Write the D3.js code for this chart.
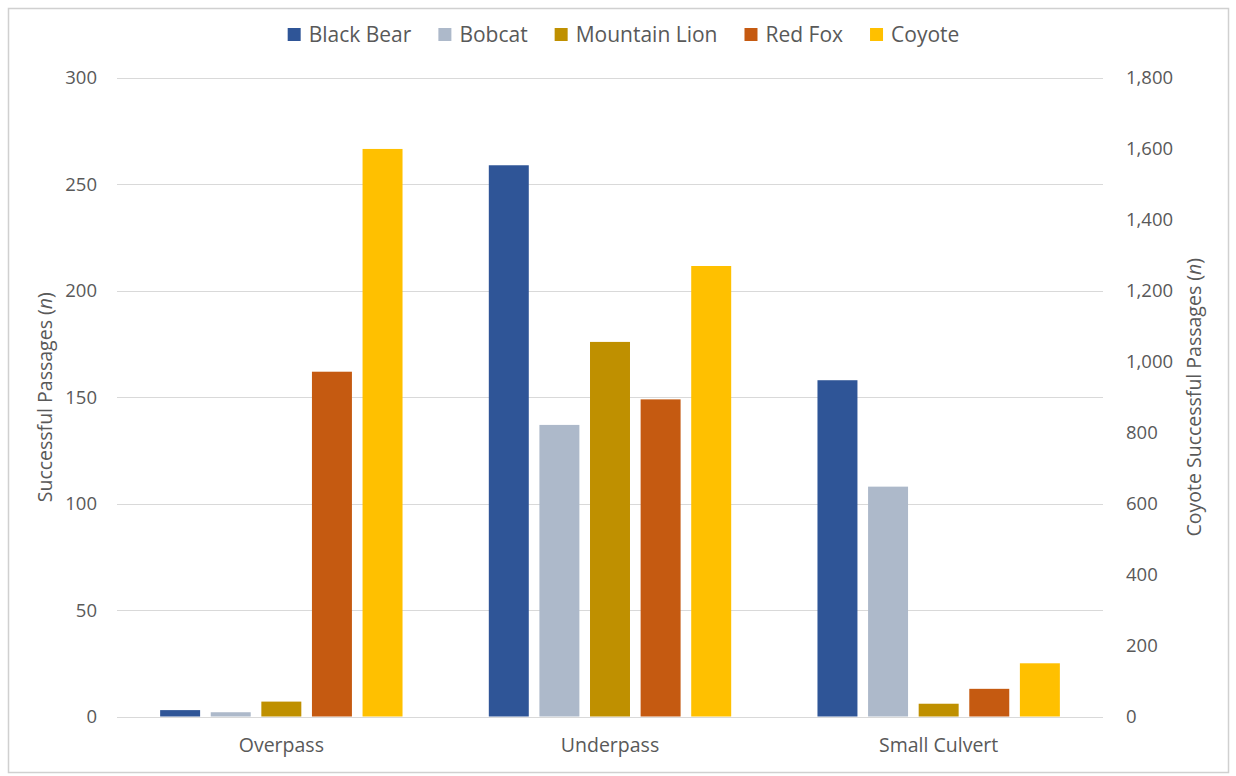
<!DOCTYPE html>
<html>
<head>
<meta charset="utf-8">
<script src="https://cdn.jsdelivr.net/npm/d3@7/dist/d3.min.js"></script>
<style>
  html, body { margin: 0; padding: 0; background: #fff; }
  svg { display: block; }
  text { font-family: "Open Sans", "Noto Sans", sans-serif; fill: #595959; }
</style>
</head>
<body>
<svg id="chart" width="1236" height="776"></svg>
<script>
const categories = ["Overpass", "Underpass", "Small Culvert"];
const seriesNames = ["Black Bear", "Bobcat", "Mountain Lion", "Red Fox", "Coyote"];
const blackBear = [3, 259, 158];
const bobcat = [2, 137, 108];
const mountainLion = [7, 176, 6];
const redFox = [162, 149, 13];
const coyote = [1600, 1270, 150];
const leftTicks = [0, 50, 100, 150, 200, 250, 300];
const rightTicks = [0, 200, 400, 600, 800, 1000, 1200, 1400, 1600, 1800];
const colors = ["#2F5597", "#ADB9CA", "#BF9000", "#C55A11", "#FFC000"];

const seriesValues = [blackBear, bobcat, mountainLion, redFox, coyote];
const rightAxisSeries = [false, false, false, false, true];

const svg = d3.select("#chart");
const plot = { left: 117, right: 1103, top: 78, bottom: 716.5 };

// outer frame
svg.append("rect")
  .attr("x", 8.5).attr("y", 8.5)
  .attr("width", 1220).attr("height", 764)
  .attr("fill", "#fff").attr("stroke", "#d0d0d0").attr("stroke-width", 1.5);

const yL = d3.scaleLinear().domain([0, 300]).range([plot.bottom, plot.top]);
const yR = d3.scaleLinear().domain([0, 1800]).range([plot.bottom, plot.top]);

const x0 = d3.scaleBand().domain(categories).range([plot.left, plot.right])
  .paddingInner(0.2625).paddingOuter(0.13125);
const x1 = d3.scaleBand().domain(seriesNames).range([0, x0.bandwidth()])
  .paddingInner(0.21).paddingOuter(0);

// gridlines
svg.append("g").selectAll("line").data(leftTicks).join("line")
  .attr("x1", plot.left).attr("x2", plot.right)
  .attr("y1", d => Math.round(yL(d)) + 0.5).attr("y2", d => Math.round(yL(d)) + 0.5)
  .attr("stroke", "#d9d9d9").attr("stroke-width", 1);

// left axis
const axL = svg.append("g").attr("transform", `translate(${plot.left - 20},0)`)
  .call(d3.axisLeft(yL).tickValues(leftTicks).tickSize(0).tickPadding(0));
axL.select(".domain").remove();
axL.selectAll("text").style("font-size", "18.5px").attr("fill", "#595959")
  .style("font-family", '"Open Sans", sans-serif');

// right axis
const axR = svg.append("g").attr("transform", `translate(${plot.right + 23},0)`)
  .call(d3.axisRight(yR).tickValues(rightTicks).tickSize(0).tickPadding(0).tickFormat(d3.format(",")));
axR.select(".domain").remove();
axR.selectAll("text").style("font-size", "18.5px").attr("fill", "#595959")
  .style("font-family", '"Open Sans", sans-serif');

// bars
const groups = svg.append("g").selectAll("g").data(categories).join("g")
  .attr("transform", c => `translate(${x0(c)},0)`);
groups.selectAll("rect")
  .data((c, ci) => seriesNames.map((s, si) => ({ s, si, v: seriesValues[si][ci] })))
  .join("rect")
  .attr("x", d => x1(d.s))
  .attr("width", x1.bandwidth())
  .attr("y", d => rightAxisSeries[d.si] ? yR(d.v) : yL(d.v))
  .attr("height", d => plot.bottom - (rightAxisSeries[d.si] ? yR(d.v) : yL(d.v)))
  .attr("fill", d => colors[d.si]);

// category labels
const axX = svg.append("g").attr("transform", `translate(0,${plot.bottom})`)
  .call(d3.axisBottom(x0).tickSize(0).tickPadding(22));
axX.select(".domain").remove();
axX.selectAll("text").style("font-size", "19.5px").attr("fill", "#595959")
  .style("font-family", '"Open Sans", sans-serif');

// axis titles
const tL = svg.append("text")
  .attr("transform", `translate(52,${(plot.top + plot.bottom) / 2}) rotate(-90)`)
  .attr("text-anchor", "middle").style("font-size", "19.5px");
tL.append("tspan").text("Successful Passages (");
tL.append("tspan").style("font-style", "italic").text("n");
tL.append("tspan").text(")");

const tR = svg.append("text")
  .attr("transform", `translate(1201,${(plot.top + plot.bottom) / 2}) rotate(-90)`)
  .attr("text-anchor", "middle").style("font-size", "19.5px");
tR.append("tspan").text("Coyote Successful Passages (");
tR.append("tspan").style("font-style", "italic").text("n");
tR.append("tspan").text(")");

// legend
const legend = svg.append("g");
const items = legend.selectAll("g").data(seriesNames).join("g");
items.append("rect").attr("width", 13).attr("height", 13).attr("y", 28)
  .attr("fill", (d, i) => colors[i]);
items.append("text").attr("x", 21).attr("y", 42).style("font-size", "21px").text(d => d);
let xpos = 0;
items.each(function () {
  const g = d3.select(this);
  g.attr("transform", `translate(${xpos},0)`);
  xpos += 21 + g.select("text").node().getComputedTextLength() + 27;
});
const totalW = xpos - 27;
legend.attr("transform", `translate(${623.5 - totalW / 2},0)`);
</script>
</body>
</html>
